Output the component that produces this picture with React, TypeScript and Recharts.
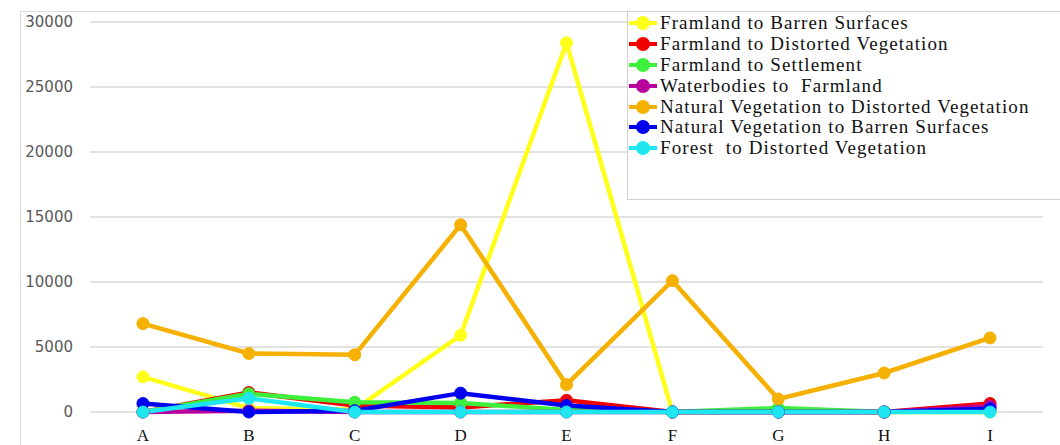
import React from 'react'
import { LineChart, Line, XAxis, YAxis, CartesianGrid } from 'recharts'

const categories = ['A', 'B', 'C', 'D', 'E', 'F', 'G', 'H', 'I']

const framlandToBarren = [2700, 300, 200, 5900, 28400, 0, 0, 0, 0]
const farmlandToDistorted = [0, 1500, 500, 350, 900, 0, 0, 0, 650]
const farmlandToSettlement = [0, 1400, 750, 700, 150, 0, 300, 0, 150]
const waterbodiesToFarmland = [0, 100, 0, 0, 0, 0, 0, 0, 450]
const naturalToDistorted = [6800, 4500, 4400, 14400, 2100, 10100, 1000, 3000, 5700]
const naturalToBarren = [650, 0, 100, 1450, 500, 0, 0, 0, 250]
const forestToDistorted = [0, 1050, 0, 0, 0, 0, 0, 0, 0]

const yTicks = [0, 5000, 10000, 15000, 20000, 25000, 30000]

const series = [
  { key: 's1', name: 'Framland to Barren Surfaces', color: '#FFFF1A', values: framlandToBarren },
  { key: 's2', name: 'Farmland to Distorted Vegetation', color: '#F00000', values: farmlandToDistorted },
  { key: 's3', name: 'Farmland to Settlement', color: '#3CF03C', values: farmlandToSettlement },
  { key: 's4', name: 'Waterbodies to  Farmland', color: '#B8009E', values: waterbodiesToFarmland },
  { key: 's5', name: 'Natural Vegetation to Distorted Vegetation', color: '#F5B000', values: naturalToDistorted },
  { key: 's6', name: 'Natural Vegetation to Barren Surfaces', color: '#0000F0', values: naturalToBarren },
  { key: 's7', name: 'Forest  to Distorted Vegetation', color: '#1EE6F0', values: forestToDistorted },
]

const data = categories.map((c, i) => {
  const row: Record<string, string | number> = { cat: c }
  series.forEach((s) => {
    row[s.key] = s.values[i]
  })
  return row
})

const serif = '"Liberation Serif", "Times New Roman", serif'

// legend drawn as a plain box so it doesn't squeeze the plot area
function LegendBox() {
  return (
    <div
      style={{
        position: 'absolute',
        left: 627,
        top: 11,
        width: 440,
        height: 189,
        border: '1px solid #d0d0d0',
        background: '#fff',
        boxSizing: 'border-box',
        paddingTop: 1,
      }}
    >
      {series.map((s) => (
        <div key={s.key} style={{ display: 'flex', alignItems: 'center', height: 20.8 }}>
          <svg width={32} height={16} style={{ flex: 'none' }}>
            <line x1={1} y1={8} x2={29} y2={8} stroke={s.color} strokeWidth={4} />
            <circle cx={15} cy={8} r={7} fill={s.color} />
          </svg>
          <span
            style={{
              fontFamily: serif,
              fontSize: 19,
              letterSpacing: 1.1,
              color: '#111',
              whiteSpace: 'pre',
              lineHeight: '20px',
            }}
          >
            {s.name}
          </span>
        </div>
      ))}
    </div>
  )
}

export default function App() {
  return (
    <div style={{ position: 'absolute', left: 0, top: 0, width: 1060, height: 445, background: '#fff', overflow: 'hidden' }}>
      <div
        style={{
          position: 'absolute',
          left: 20,
          top: 11,
          width: 1060,
          height: 460,
          borderLeft: '1px solid #dcdcdc',
          borderTop: '1px solid #dcdcdc',
        }}
      />
      <LineChart width={1060} height={445} data={data} margin={{ top: 22, right: 17, bottom: 8, left: 20 }}>
        <CartesianGrid vertical={false} stroke="#d9d9d9" strokeWidth={1.5} />
        <XAxis
          dataKey="cat"
          scale="band"
          axisLine={false}
          tickLine={false}
          height={25}
          tickMargin={11}
          tick={{ fill: '#111', fontSize: 17, fontFamily: serif }}
        />
        <YAxis
          domain={[0, 30000]}
          ticks={yTicks}
          width={70}
          axisLine={false}
          tickLine={false}
          tickMargin={11}
          tick={{ fill: '#595959', fontSize: 15, fontFamily: '"DejaVu Sans", sans-serif' }}
        />
        {series.map((s) => (
          <Line
            key={s.key}
            type="linear"
            dataKey={s.key}
            name={s.name}
            stroke={s.color}
            strokeWidth={4.5}
            dot={{ r: 6, fill: s.color, stroke: s.color, strokeWidth: 1 }}
            activeDot={false}
            isAnimationActive={false}
          />
        ))}
      </LineChart>
      <LegendBox />
    </div>
  )
}
